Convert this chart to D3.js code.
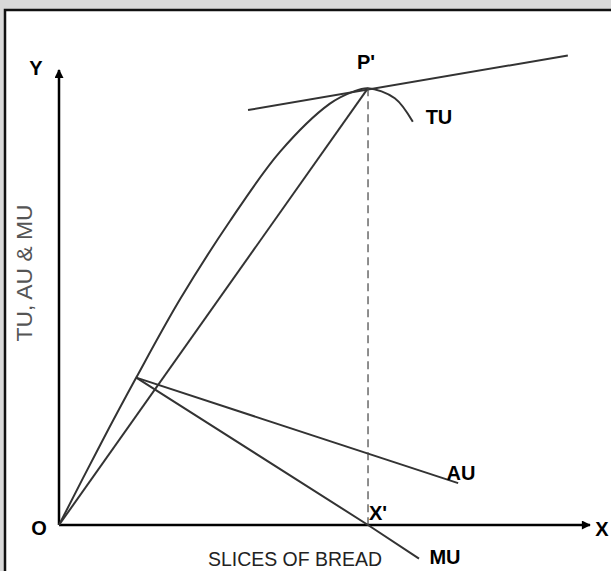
<!DOCTYPE html>
<html>
<head>
<meta charset="utf-8">
<script src="https://cdn.jsdelivr.net/npm/d3@7"></script>
<style>
  html, body { margin: 0; padding: 0; background: #d9d9d9; }
  svg { display: block; }
</style>
</head>
<body>
<div id="chart"></div>
<script>
// TU curve (slices vs utility, schematic units)
const tuX = [0, 0.8, 1.5, 2.35, 3.32, 4.29, 5.26, 5.7, 6.0, 6.52, 6.87];
const tuY = [0, 8.8, 16.2, 24.8, 33.4, 41.0, 46.3, 47.6, 48.0, 46.9, 44.3];

// tangent at P'
const tanX = [3.67, 9.88];
const tanY = [45.6, 51.6];

// chord from origin to P'
const chordX = [0, 6.0];
const chordY = [0, 48.0];

// AU and MU lines
const auX = [1.5, 7.75];
const auY = [16.2, 4.6];
const muX = [1.5, 6.0, 6.99];
const muY = [16.2, 0, -3.7];

// dashed drop from P'
const dropX = [6.0, 6.0];
const dropY = [48.0, 0];

const width = 611, height = 571;

const svg = d3.select("#chart")
    .append("svg")
    .attr("width", width)
    .attr("height", height);

// white panel with dark frame
svg.append("rect")
    .attr("x", 5).attr("y", 10)
    .attr("width", width + 20).attr("height", height + 20)
    .attr("fill", "#fff")
    .attr("stroke", "#111")
    .attr("stroke-width", 2.5);

const x = d3.scaleLinear().domain([0, 10.31]).range([59, 590]);
const y = d3.scaleLinear().domain([0, 50]).range([525, 70]);

const toPts = (xs, ys) => xs.map((v, i) => [v, ys[i]]);

const line = d3.line()
    .x(d => x(d[0]))
    .y(d => y(d[1]));

// arrow markers
const defs = svg.append("defs");
defs.append("marker")
    .attr("id", "arrow")
    .attr("viewBox", "0 0 10 10")
    .attr("refX", 9).attr("refY", 5)
    .attr("markerWidth", 11).attr("markerHeight", 9)
    .attr("markerUnits", "userSpaceOnUse")
    .attr("orient", "auto")
    .append("path")
    .attr("d", "M0,0 L10,5 L0,10 Z")
    .attr("fill", "#000");

// axes
svg.append("path")
    .attr("d", line([[0, 0], [0, 50]]))
    .attr("stroke", "#000").attr("stroke-width", 2.5)
    .attr("marker-end", "url(#arrow)");
svg.append("path")
    .attr("d", line([[0, 0], [10.31, 0]]))
    .attr("stroke", "#000").attr("stroke-width", 2.5)
    .attr("marker-end", "url(#arrow)");

const stroke = "#333";

// TU curve
svg.append("path")
    .datum(toPts(tuX, tuY))
    .attr("d", line.curve(d3.curveCatmullRom.alpha(0.5)))
    .attr("fill", "none")
    .attr("stroke", stroke)
    .attr("stroke-width", 2);

line.curve(d3.curveLinear);

[[tanX, tanY], [chordX, chordY], [auX, auY], [muX, muY]].forEach(([xs, ys]) => {
    svg.append("path")
        .datum(toPts(xs, ys))
        .attr("d", line)
        .attr("fill", "none")
        .attr("stroke", stroke)
        .attr("stroke-width", 2);
});

svg.append("path")
    .datum(toPts(dropX, dropY))
    .attr("d", line)
    .attr("fill", "none")
    .attr("stroke", "#444")
    .attr("stroke-width", 1.2)
    .attr("stroke-dasharray", "8,5");

// bold point labels
const labels = [
    { t: "Y", x: 36, y: 68 },
    { t: "P'", x: 366, y: 62 },
    { t: "TU", x: 439, y: 117 },
    { t: "O", x: 39, y: 528 },
    { t: "X'", x: 378, y: 513 },
    { t: "AU", x: 461, y: 473 },
    { t: "MU", x: 445, y: 557 },
    { t: "X", x: 602, y: 529 }
];

svg.selectAll("text.lbl")
    .data(labels)
    .join("text")
    .attr("class", "lbl")
    .attr("x", d => d.x)
    .attr("y", d => d.y)
    .attr("text-anchor", "middle")
    .attr("dominant-baseline", "central")
    .attr("font-family", "Liberation Sans, Arial, sans-serif")
    .attr("font-weight", "bold")
    .attr("font-size", 20)
    .attr("fill", "#000")
    .text(d => d.t);

// axis titles (condensed look)
svg.append("text")
    .attr("x", 295)
    .attr("y", 566)
    .attr("text-anchor", "middle")
    .attr("font-family", "Liberation Sans, Arial, sans-serif")
    .attr("font-size", 20)
    .attr("textLength", 174)
    .attr("lengthAdjust", "spacingAndGlyphs")
    .attr("fill", "#222")
    .text("SLICES OF BREAD");

svg.append("text")
    .attr("transform", "translate(32,273) rotate(-90)")
    .attr("text-anchor", "middle")
    .attr("font-family", "Liberation Sans, Arial, sans-serif")
    .attr("font-size", 22)
    .attr("textLength", 137)
    .attr("lengthAdjust", "spacingAndGlyphs")
    .attr("fill", "#555")
    .text("TU, AU & MU");
</script>
</body>
</html>
